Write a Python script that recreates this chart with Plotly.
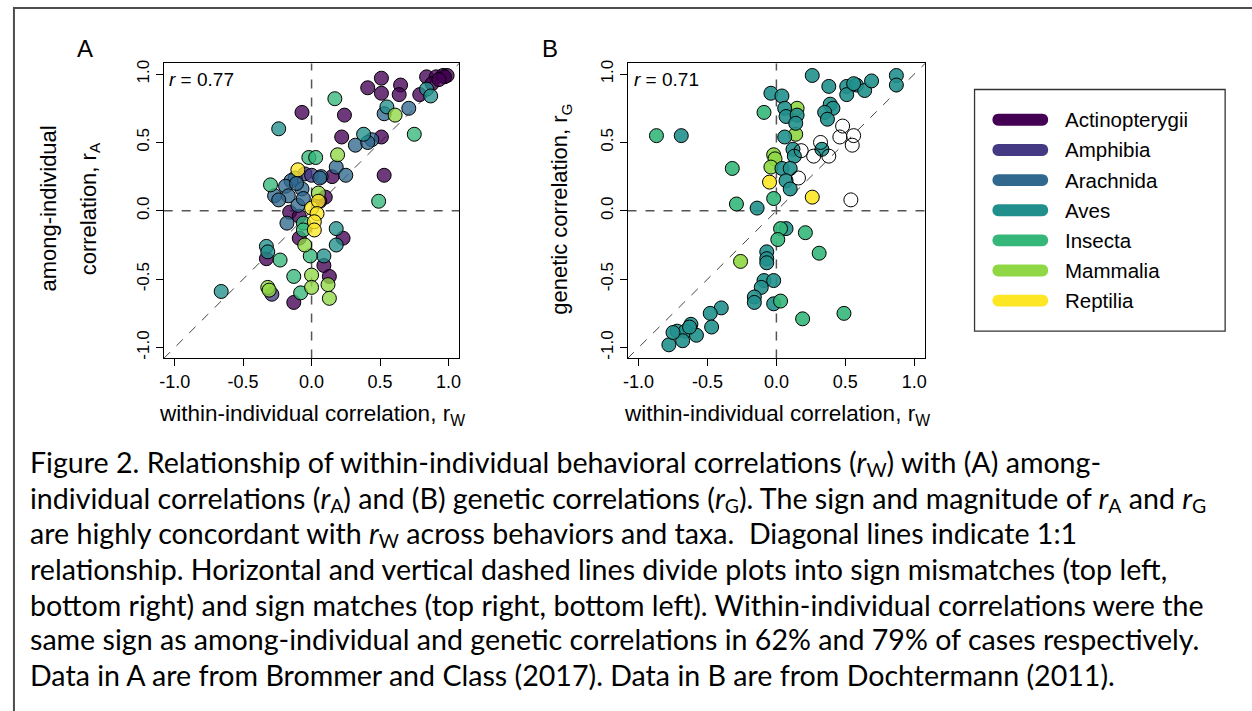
import plotly.graph_objects as go

W, H = 1252, 711

taxa = ["Actinopterygii", "Amphibia", "Arachnida", "Aves", "Insecta", "Mammalia", "Reptilia"]
taxa_colors = ["#440154", "#443A83", "#31688E", "#21908C", "#35B779", "#8FD744", "#FDE725"]
tick_vals = [-1.0, -0.5, 0.0, 0.5, 1.0]
tick_text = ["-1.0", "-0.5", "0.0", "0.5", "1.0"]

# ---- Panel A: within-individual (rW) vs among-individual (rA) ----
a_actinopterygii_rw = [0.51, 0.41, 0.51, 0.65, 0.64, 0.84, 0.91, 0.96, 0.99, 0.97, 0.79, 0.88, 0.93, -0.07, 0.24,
                       0.22, 0.51, 0.15, 0.10, 0.06, -0.16, -0.09, 0.23, -0.09, -0.33, 0.09, 0.13, -0.13, 0.53]
a_actinopterygii_ra = [0.97, 0.90, 0.86, 0.92, 0.85, 0.98, 0.98, 0.99, 0.99, 0.98, 0.85, 0.93, 0.96, 0.72, 0.70,
                       0.54, 0.54, 0.25, 0.10, 0.07, -0.01, -0.04, -0.20, -0.20, -0.35, -0.40, -0.48, -0.67, 0.26]
a_amphibia_rw = [-0.05, 0.00, -0.29]
a_amphibia_ra = [0.27, 0.26, -0.61]
a_arachnida_rw = [0.53, 0.71, 0.32, 0.44, 0.41, 0.18, 0.25, 0.07, 0.06, -0.12, -0.15, -0.19, -0.07, -0.27, -0.17,
                  -0.24, -0.10, -0.18, -0.06, -0.11]
a_arachnida_ra = [0.71, 0.75, 0.48, 0.52, 0.50, 0.32, 0.26, 0.25, 0.24, 0.24, 0.22, 0.18, 0.16, 0.11, 0.11,
                  0.08, 0.04, -0.09, 0.09, 0.20]
a_aves_rw = [0.84, 0.87, -0.24, 0.55, 0.38, 0.18, 0.18, -0.33, -0.32, 0.09, -0.66]
a_aves_ra = [0.89, 0.84, 0.60, 0.76, 0.56, -0.13, -0.25, -0.26, -0.30, -0.33, -0.59]
a_insecta_rw = [0.17, 0.75, -0.02, 0.03, -0.30, -0.06, -0.06, -0.23, -0.01, -0.13, -0.08, 0.49]
a_insecta_ra = [0.82, 0.56, 0.39, 0.39, 0.19, -0.09, -0.14, -0.36, -0.33, -0.48, -0.60, 0.07]
a_mammalia_rw = [0.61, 0.19, 0.05, -0.05, 0.00, 0.12, 0.00, -0.32, -0.31, 0.13]
a_mammalia_ra = [0.70, 0.41, 0.13, -0.25, -0.47, -0.54, -0.56, -0.56, -0.58, -0.64]
a_reptilia_rw = [-0.10, 0.00, 0.05, 0.04, 0.02, 0.02]
a_reptilia_ra = [0.30, 0.02, 0.07, -0.02, -0.08, -0.14]

# ---- Panel B: within-individual (rW) vs genetic (rG) ----
b_aves_rw = [0.26, 0.38, 0.51, 0.51, 0.58, 0.64, 0.69, 0.87, 0.87, 0.39, 0.41, 0.35, 0.37, -0.04, 0.04,
             0.06, 0.07, 0.15, 0.14, -0.69, 0.06, 0.12, 0.13, 0.04, 0.10, 0.07, 0.10, -0.14, 0.33, 0.07,
             -0.07, -0.07, -0.07, -0.09, -0.02, -0.11, -0.16, -0.16, -0.02, -0.40, -0.48, -0.47, -0.62, -0.72,
             -0.66, -0.58, -0.68, -0.78, -0.75, -0.63, 0.56]
b_aves_rg = [0.99, 0.91, 0.91, 0.85, 0.92, 0.88, 0.95, 0.99, 0.92, 0.78, 0.75, 0.72, 0.67, 0.86, 0.84,
             0.75, 0.69, 0.70, 0.64, 0.55, 0.54, 0.45, 0.40, 0.31, 0.31, 0.22, 0.16, 0.02, 0.45, -0.13,
             -0.30, -0.35, -0.38, -0.51, -0.51, -0.56, -0.63, -0.67, -0.68, -0.71, -0.75, -0.85, -0.83, -0.88,
             -0.88, -0.91, -0.95, -0.98, -0.89, -0.85, 0.93]
b_insecta_rw = [-0.87, -0.09, -0.32, -0.02, -0.29, 0.03, 0.01, 0.21, 0.31, 0.03, 0.19, 0.49]
b_insecta_rg = [0.55, 0.72, 0.31, 0.09, 0.05, -0.13, -0.21, -0.16, -0.31, -0.66, -0.79, -0.75]
b_mammalia_rw = [0.15, 0.14, -0.02, -0.01, -0.04, -0.26]
b_mammalia_rg = [0.75, 0.56, 0.41, 0.38, 0.32, -0.37]
b_reptilia_rw = [-0.05, 0.26]
b_reptilia_rg = [0.21, 0.10]
b_unclassified_rw = [0.48, 0.46, 0.56, 0.55, 0.32, 0.27, 0.38, 0.18, 0.16, 0.54]
b_unclassified_rg = [0.62, 0.54, 0.55, 0.48, 0.50, 0.40, 0.40, 0.44, 0.24, 0.08]

panel_a = {
    "Actinopterygii": (a_actinopterygii_rw, a_actinopterygii_ra),
    "Amphibia": (a_amphibia_rw, a_amphibia_ra),
    "Arachnida": (a_arachnida_rw, a_arachnida_ra),
    "Aves": (a_aves_rw, a_aves_ra),
    "Insecta": (a_insecta_rw, a_insecta_ra),
    "Mammalia": (a_mammalia_rw, a_mammalia_ra),
    "Reptilia": (a_reptilia_rw, a_reptilia_ra),
}
panel_b = {
    "Mammalia": (b_mammalia_rw, b_mammalia_rg),
    "Aves": (b_aves_rw, b_aves_rg),
    "Insecta": (b_insecta_rw, b_insecta_rg),
    "Reptilia": (b_reptilia_rw, b_reptilia_rg),
}


def rsub(letter):
    return ("<i>r</i><span style=\"font-size:0.68em;baseline-shift:-0.18em\">%s</span>" % letter)


caption_lines = [
    "Figure 2. Relationship of within-individual behavioral correlations (%s) with (A) among-" % rsub("W"),
    "individual correlations (%s) and (B) genetic correlations (%s). The sign and magnitude of %s and %s"
    % (rsub("A"), rsub("G"), rsub("A"), rsub("G")),
    "are highly concordant with %s across behaviors and taxa.&nbsp; Diagonal lines indicate 1:1" % rsub("W"),
    "relationship. Horizontal and vertical dashed lines divide plots into sign mismatches (top left,",
    "bottom right) and sign matches (top right, bottom left). Within-individual correlations were the",
    "same sign as among-individual and genetic correlations in 62% and 79% of cases respectively.",
    "Data in A are from Brommer and Class (2017). Data in B are from Dochtermann (2011).",
]


def X(p):
    return p / W


def Y(p):
    return 1 - p / H


def rgba(hexc, a):
    h = hexc.lstrip("#")
    return "rgba(%d,%d,%d,%.2f)" % (int(h[0:2], 16), int(h[2:4], 16), int(h[4:6], 16), a)


color_of = dict(zip(taxa, taxa_colors))
MS = 14
fig = go.Figure()

for name, (xs, ys) in panel_a.items():
    fig.add_trace(go.Scatter(x=xs, y=ys, mode="markers", xaxis="x", yaxis="y", showlegend=False,
                             marker=dict(size=MS, color=rgba(color_of[name], 0.78),
                                         line=dict(color="black", width=1)), name=name))
for name, (xs, ys) in panel_b.items():
    fig.add_trace(go.Scatter(x=xs, y=ys, mode="markers", xaxis="x2", yaxis="y2", showlegend=False,
                             marker=dict(size=MS, color=rgba(color_of[name], 0.9),
                                         line=dict(color="black", width=1)), name=name))
fig.add_trace(go.Scatter(x=b_unclassified_rw, y=b_unclassified_rg, mode="markers", xaxis="x2", yaxis="y2",
                         showlegend=False,
                         marker=dict(size=MS, color="rgba(255,255,255,0)", line=dict(color="black", width=1))))

RNG = [-1.08, 1.08]
tickfont_x = dict(family="Liberation Sans Narrow, Liberation Sans, Arial", size=18, color="black")
tickfont_y = dict(family="Liberation Sans, Arial", size=17, color="black")
ax_common = dict(range=RNG, tickvals=tick_vals, ticktext=tick_text, ticks="outside", ticklen=7,
                 tickcolor="black", showline=True, mirror=True, linecolor="black", linewidth=1,
                 showgrid=False, zeroline=False)

fig.update_layout(
    width=W, height=H, margin=dict(l=0, r=0, t=0, b=0),
    paper_bgcolor="white", plot_bgcolor="white",
    font=dict(family="Liberation Sans, Arial", color="black", size=16),
    xaxis=dict(domain=[X(159.6), X(457)], anchor="y", tickfont=tickfont_x, **ax_common),
    yaxis=dict(domain=[Y(357.5), Y(60.5)], anchor="x", tickfont=tickfont_y, tickangle=-90, **ax_common),
    xaxis2=dict(domain=[X(626), X(925.5)], anchor="y2", tickfont=tickfont_x, **ax_common),
    yaxis2=dict(domain=[Y(357.5), Y(60.5)], anchor="x2", tickfont=tickfont_y, tickangle=-90, **ax_common),
)

shapes = []
for xr, yr in (("x", "y"), ("x2", "y2")):
    shapes.append(dict(type="line", xref=xr, yref=yr, x0=RNG[0], x1=RNG[1], y0=0, y1=0, layer="below",
                       line=dict(color="#555555", width=1.5, dash="dash")))
    shapes.append(dict(type="line", xref=xr, yref=yr, x0=0, x1=0, y0=RNG[0], y1=RNG[1], layer="below",
                       line=dict(color="#555555", width=1.5, dash="dash")))
    shapes.append(dict(type="line", xref=xr, yref=yr, x0=RNG[0], x1=RNG[1], y0=RNG[0], y1=RNG[1], layer="below",
                       line=dict(color="#444444", width=1, dash="dash")))

# outer frame of the figure
shapes.append(dict(type="rect", xref="paper", yref="paper", x0=X(9), x1=X(1300), y0=Y(760), y1=Y(5),
                   line=dict(color="#4d4d4d", width=2), fillcolor="rgba(0,0,0,0)"))

# legend box
shapes.append(dict(type="rect", xref="paper", yref="paper", x0=X(975), x1=X(1227), y0=Y(330), y1=Y(87),
                   line=dict(color="#333333", width=1.3), fillcolor="rgba(0,0,0,0)"))

annotations = []
leg_y0, leg_dy = 117.5, 30.3
r = 6.0
x1c, x2c = 999.0, 1043.0
for i, (name, col) in enumerate(zip(taxa, taxa_colors)):
    cy = leg_y0 + leg_dy * i
    k = r * 4.0 / 3.0
    pts = [
        ("M", [(x1c, cy - r)]),
        ("L", [(x2c, cy - r)]),
        ("C", [(x2c + k, cy - r), (x2c + k, cy + r), (x2c, cy + r)]),
        ("L", [(x1c, cy + r)]),
        ("C", [(x1c - k, cy + r), (x1c - k, cy - r), (x1c, cy - r)]),
    ]
    path = ""
    for cmd, coords in pts:
        path += cmd + " ".join("%.5f,%.5f" % (X(a), Y(b)) for a, b in coords) + " "
    path += "Z"
    shapes.append(dict(type="path", xref="paper", yref="paper", path=path, fillcolor=col,
                       line=dict(width=0)))
    annotations.append(dict(xref="paper", yref="paper", x=X(1064), y=Y(cy), text=name, showarrow=False,
                            xanchor="left", yanchor="middle",
                            font=dict(family="Liberation Sans, Arial", size=20.5, color="black")))

fig.update_layout(shapes=shapes)

font_lab = dict(family="Liberation Sans, Arial", size=22, color="black")
font_24 = dict(family="Liberation Sans, Arial", size=24, color="black")
font_19 = dict(family="Liberation Sans, Arial", size=19, color="black")
# panel letters
annotations.append(dict(xref="paper", yref="paper", x=X(80), y=Y(46), text="A", showarrow=False,
                        xanchor="center", yanchor="middle", font=font_24))
annotations.append(dict(xref="paper", yref="paper", x=X(548), y=Y(46), text="B", showarrow=False,
                        xanchor="center", yanchor="middle", font=font_24))
# r values
annotations.append(dict(xref="paper", yref="paper", x=X(163), y=Y(77), text="<i>r</i> = 0.77", showarrow=False,
                        xanchor="left", yanchor="middle", font=font_19))
annotations.append(dict(xref="paper", yref="paper", x=X(631), y=Y(77), text="<i>r</i> = 0.71", showarrow=False,
                        xanchor="left", yanchor="middle", font=font_19))
# axis titles
annotations.append(dict(xref="paper", yref="paper", x=X(44), y=Y(207), text="among-individual", showarrow=False,
                        textangle=-90, xanchor="center", yanchor="middle", font=font_lab))
annotations.append(dict(xref="paper", yref="paper", x=X(85), y=Y(207), text="correlation, r<sub>A</sub>",
                        showarrow=False, textangle=-90, xanchor="center", yanchor="middle", font=font_lab))
annotations.append(dict(xref="paper", yref="paper", x=X(559), y=Y(207), text="genetic correlation, r<sub>G</sub>",
                        showarrow=False, textangle=-90, xanchor="center", yanchor="middle", font=font_lab))
for cx in (308.5, 776):
    annotations.append(dict(xref="paper", yref="paper", x=X(cx), y=Y(414),
                            text="within-individual correlation, r<sub>W</sub>", showarrow=False,
                            xanchor="center", yanchor="middle",
                            font=dict(family="Liberation Sans, Arial", size=22.5, color="black")))

cap_y = [463, 499, 534, 569, 605, 640, 676]
for line, yy in zip(caption_lines, cap_y):
    annotations.append(dict(xref="paper", yref="paper", x=X(23), y=Y(yy), text=line, showarrow=False,
                            xanchor="left", yanchor="middle",
                            font=dict(family="Lato, Liberation Sans, Arial", size=28.6, color="black")))

fig.update_layout(annotations=annotations)

fig.write_html("out.html", config={"displayModeBar": False},
               post_script="document.body.style.margin='0';")
